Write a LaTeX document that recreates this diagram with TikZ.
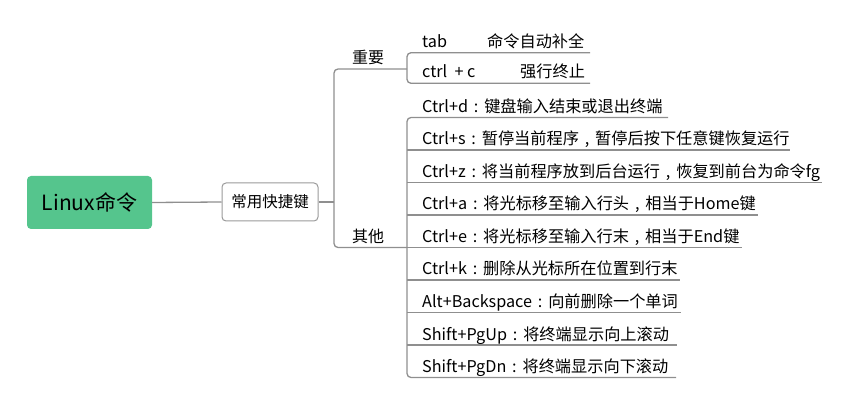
\documentclass[tikz,border=0pt]{standalone}
\usepackage{fontspec}
\setmainfont{Noto Sans CJK SC}
\definecolor{rootgreen}{HTML}{55C58D}
\definecolor{linegray}{HTML}{8F8F8F}
\definecolor{boxgray}{HTML}{9A9A9A}
\newcommand{\fwcolon}{\makebox[1em][c]{:}}
\newcommand{\fwcomma}{\makebox[1em][c]{,}}
\begin{document}
\begin{tikzpicture}[x=1pt,y=-1pt,
  conn/.style={draw=linegray, line width=1.3pt},
  rootbox/.style={fill=rootgreen, rounded corners=4pt, minimum width=125pt, minimum height=53pt, inner sep=0pt, font=\fontsize{21}{24}\selectfont},
  midbox/.style={draw=boxgray, line width=1pt, fill=white, rounded corners=4pt, minimum width=96pt, minimum height=38pt, inner sep=0pt, font=\fontsize{15.5}{18}\selectfont},
  grp/.style={anchor=base west, inner sep=0pt, font=\fontsize{16}{18}\selectfont},
  item/.style={anchor=base west, inner sep=0pt, font=\fontsize{16.2}{18}\selectfont}]
\useasboundingbox (0,0) rectangle (852,406);
\node[rootbox] (root) at (89.5,202.5) {Linux命令};
\node[midbox] (kj) at (270,202) {常用快捷键};
\draw[conn] (root.east) -- (kj.west);
\coordinate (j) at (334,202);
\draw[conn] (kj.east) -- (j);
% group labels
\node[grp] (zy) at (352,64) {重要};
\node[grp] (qt) at (352,243) {其他};
\coordinate (zyL) at (407,69);
\coordinate (qtL) at (407,247.5);
\draw[conn, rounded corners=4pt] (zyL) -- (334,69) -- (334,247.5) -- (qtL);
% important items
\node[item] (tab) at (422,47.5) {\makebox[65pt][l]{tab}命令自动补全};
\node[item] (ctc) at (422,78) {\makebox[98pt][l]{ctrl\ \ + c}强行终止};
\coordinate (tabE) at (590,52.7);
\coordinate (ctcE) at (590,83.3);
\draw[conn, rounded corners=4pt] (tabE) -- (407,52.7) -- (407,83.3) -- (ctcE);
% other items
\foreach \n/\y/\e/\t in {
  d/117.5/668/{Ctrl+d\fwcolon 键盘输入结束或退出终端},
  s/150/790/{Ctrl+s\fwcolon 暂停当前程序\fwcomma 暂停后按下任意键恢复运行},
  z/182.5/822/{Ctrl+z\fwcolon 将当前程序放到后台运行\fwcomma 恢复到前台为命令fg},
  a/215/758/{Ctrl+a\fwcolon 将光标移至输入行头\fwcomma 相当于Home键},
  e/247.5/742/{Ctrl+e\fwcolon 将光标移至输入行末\fwcomma 相当于End键},
  k/280/680/{Ctrl+k\fwcolon 删除从光标所在位置到行末},
  alt/312.5/681/{Alt+Backspace\fwcolon 向前删除一个单词},
  up/345/677/{Shift+PgUp\fwcolon 将终端显示向上滚动},
  dn/377.5/676/{Shift+PgDn\fwcolon 将终端显示向下滚动}}{
  \node[item] (it\n) at (422,\y-5) {\t};
  \coordinate (e\n) at (\e,\y);
}
\draw[conn, rounded corners=4pt] (ed) -- (407,117.5) -- (407,377.5) -- (edn);
\foreach \n/\y in {s/150, z/182.5, a/215, e/247.5, k/280, alt/312.5, up/345}{
  \draw[conn] (407,\y) -- (e\n);
}
\end{tikzpicture}
\end{document}
